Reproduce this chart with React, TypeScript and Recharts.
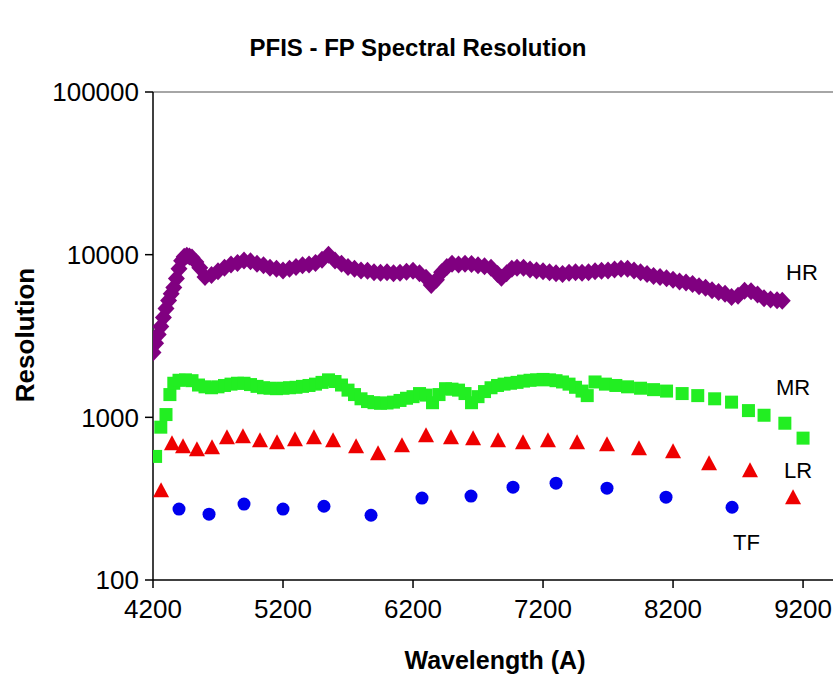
import React from 'react';
import { ScatterChart, Scatter, XAxis, YAxis, ReferenceLine } from 'recharts';

// HR (dense diamond band)
const hrWavelength = [
  4200, 4220, 4240, 4260, 4280, 4300, 4320, 4340, 4360, 4380, 4400, 4420, 4440, 4460, 4480, 4500,
  4530, 4560, 4600, 4650, 4700, 4750, 4800, 4850, 4900, 4950, 5000, 5050, 5100, 5150, 5200, 5250,
  5300, 5350, 5400, 5450, 5500, 5550, 5600, 5650, 5700, 5750, 5800, 5850, 5900, 5950, 6000, 6050,
  6100, 6150, 6200, 6250, 6300, 6340, 6380, 6420, 6460, 6500, 6550, 6600, 6650, 6700, 6750, 6800,
  6850, 6880, 6920, 6960, 7000, 7050, 7100, 7150, 7200, 7250, 7300, 7350, 7400, 7450, 7500, 7550,
  7600, 7650, 7700, 7750, 7800, 7850, 7900, 7950, 8000, 8050, 8100, 8150, 8200, 8250, 8300, 8350,
  8400, 8450, 8500, 8550, 8600, 8650, 8700, 8750, 8800, 8850, 8900, 8950, 9000, 9040,
];
const hrResolution = [
  2500, 2850, 3230, 3620, 4110, 4660, 5220, 5760, 6280, 7130, 8200, 9190, 9720, 9860, 9750, 9600,
  9000, 8300, 7300, 7500, 7900, 8300, 8700, 8900, 9200, 9100, 8800, 8600, 8300, 8200, 8000, 8200,
  8400, 8600, 8700, 8900, 9300, 10000, 9200, 8800, 8400, 8200, 8000, 7950, 7800, 7750, 7800, 7700,
  7750, 7850, 7950, 7700, 7200, 6500, 7000, 7800, 8400, 8800, 8700, 8800, 8750, 8600, 8500, 8300,
  7600, 7200, 7700, 8200, 8300, 8300, 8100, 8000, 7900, 7800, 7700, 7600, 7750, 7800, 7750, 7800,
  7900, 7950, 8000, 8100, 8200, 8200, 8000, 7800, 7600, 7400, 7300, 7150, 7000, 6850, 6750, 6600,
  6400, 6250, 6050, 5900, 5750, 5500, 5600, 6000, 5950, 5700, 5400, 5300, 5250, 5200,
];

// MR (green squares)
const mrWavelength = [
  4220, 4260, 4300, 4330, 4360, 4400, 4450, 4500, 4550, 4600, 4650, 4700, 4750, 4800, 4850, 4900,
  4950, 5000, 5050, 5100, 5150, 5200, 5250, 5300, 5350, 5400, 5450, 5500, 5550, 5600, 5650, 5700,
  5750, 5800, 5850, 5900, 5950, 6000, 6050, 6100, 6150, 6200, 6250, 6300, 6350, 6400, 6450, 6500,
  6550, 6600, 6650, 6700, 6750, 6800, 6850, 6900, 6950, 7000, 7050, 7100, 7150, 7200, 7250, 7300,
  7350, 7400, 7450, 7500, 7540, 7600, 7680, 7760, 7850, 7950, 8050, 8150, 8270, 8390, 8520, 8650,
  8780, 8900, 9060, 9200,
];
const mrResolution = [
  575, 870, 1040, 1380, 1620, 1690, 1700, 1680, 1580, 1540, 1520, 1540, 1570, 1600, 1620, 1620,
  1590, 1550, 1520, 1510, 1500, 1510, 1520, 1530, 1550, 1570, 1600, 1640, 1700, 1660, 1580, 1470,
  1380, 1300, 1250, 1230, 1220, 1225, 1240, 1270, 1310, 1340, 1400, 1370, 1230, 1380, 1500, 1490,
  1470, 1400, 1230, 1340, 1440, 1520, 1570, 1600, 1620, 1640, 1670, 1690, 1700, 1710, 1700, 1680,
  1650, 1600, 1530, 1450, 1360, 1650, 1600, 1570, 1540, 1510, 1480, 1450, 1400, 1360, 1300, 1240,
  1100, 1030, 920, 745,
];

// LR (red triangles)
const lrWavelength = [
  4262, 4346, 4431, 4538, 4654, 4769, 4892, 5023, 5154, 5292, 5438, 5585, 5762, 5931, 6115, 6300,
  6492, 6662, 6854, 7046, 7238, 7462, 7692, 7938, 8200, 8477, 8792, 9123,
];
const lrResolution = [
  356, 692, 664, 636, 654, 754, 765, 722, 702, 733, 754, 722, 664, 601, 673, 776,
  754, 743, 722, 702, 722, 702, 683, 645, 618, 522, 473, 323,
];

// TF (blue circles)
const tfWavelength = [4400, 4631, 4900, 5200, 5515, 5877, 6269, 6646, 6969, 7300, 7692, 8146, 8654];
const tfResolution = [273, 254, 293, 273, 284, 250, 319, 328, 372, 394, 367, 323, 280];

const xTicks = [4200, 5200, 6200, 7200, 8200, 9200];
const yTicks = [100, 1000, 10000, 100000];

const toPoints = (xs: number[], ys: number[]) => xs.map((x, i) => ({ x, y: ys[i] }));

const hrData = toPoints(hrWavelength, hrResolution);
const mrData = toPoints(mrWavelength, mrResolution);
const lrData = toPoints(lrWavelength, lrResolution);
const tfData = toPoints(tfWavelength, tfResolution);

const FONT = '"Liberation Sans", Arial, sans-serif';

const Diamond = (props: any) => {
  const { cx, cy } = props;
  return (
    <polygon
      points={`${cx},${cy - 9} ${cx + 8.5},${cy} ${cx},${cy + 9} ${cx - 8.5},${cy}`}
      fill="#800080"
    />
  );
};

const Square = (props: any) => {
  const { cx, cy } = props;
  return <rect x={cx - 6.5} y={cy - 6.5} width={13} height={13} fill="#22ee22" />;
};

const Triangle = (props: any) => {
  const { cx, cy } = props;
  return (
    <polygon
      points={`${cx},${cy - 8} ${cx + 8},${cy + 7} ${cx - 8},${cy + 7}`}
      fill="#ee0000"
    />
  );
};

const Dot = (props: any) => {
  const { cx, cy } = props;
  return <circle cx={cx} cy={cy} r={6.5} fill="#0000ee" />;
};

const tickStyle = { fontSize: 26, fill: '#000', fontFamily: FONT };

export default function App() {
  return (
    <div
      style={{
        position: 'absolute',
        left: 0,
        top: 0,
        width: 833,
        height: 675,
        overflow: 'hidden',
        background: '#fff',
      }}
    >
      <ScatterChart width={860} height={675} margin={{ top: 92, right: 0, bottom: 0, left: 0 }}>
        <XAxis
          type="number"
          dataKey="x"
          domain={[4200, 9638]}
          ticks={xTicks}
          allowDataOverflow
          height={95}
          tickSize={8}
          tickMargin={12}
          tick={tickStyle}
          axisLine={{ stroke: '#000', strokeWidth: 1.5 }}
          tickLine={{ stroke: '#000', strokeWidth: 1.5 }}
        />
        <YAxis
          type="number"
          dataKey="y"
          scale="log"
          domain={[100, 100000]}
          ticks={yTicks}
          allowDataOverflow
          width={153}
          tickSize={8}
          tickMargin={6}
          tick={tickStyle}
          tickFormatter={(v: number) => String(v)}
          axisLine={{ stroke: '#000', strokeWidth: 1.5 }}
          tickLine={{ stroke: '#000', strokeWidth: 1.5 }}
        />
        <ReferenceLine y={100000} stroke="#a6a6a6" strokeWidth={2} />
        <Scatter data={hrData} shape={Diamond} isAnimationActive={false} />
        <Scatter data={mrData} shape={Square} isAnimationActive={false} />
        <Scatter data={lrData} shape={Triangle} isAnimationActive={false} />
        <Scatter data={tfData} shape={Dot} isAnimationActive={false} />
      </ScatterChart>
      <svg
        width={833}
        height={675}
        style={{ position: 'absolute', left: 0, top: 0, pointerEvents: 'none' }}
        fontFamily={FONT}
      >
        <text x={418} y={56} textAnchor="middle" fontSize={24} fontWeight="bold" fill="#000">
          PFIS - FP Spectral Resolution
        </text>
        <text
          x={0}
          y={0}
          transform="translate(34,335) rotate(-90)"
          textAnchor="middle"
          fontSize={26}
          fontWeight="bold"
          fill="#000"
        >
          Resolution
        </text>
        <text x={495} y={669} textAnchor="middle" fontSize={25} fontWeight="bold" fill="#000">
          Wavelength (A)
        </text>
        <text x={786} y={280} fontSize={22} fill="#000">HR</text>
        <text x={776} y={395} fontSize={22} fill="#000">MR</text>
        <text x={784} y={478} fontSize={22} fill="#000">LR</text>
        <text x={733} y={550} fontSize={22} fill="#000">TF</text>
      </svg>
    </div>
  );
}
